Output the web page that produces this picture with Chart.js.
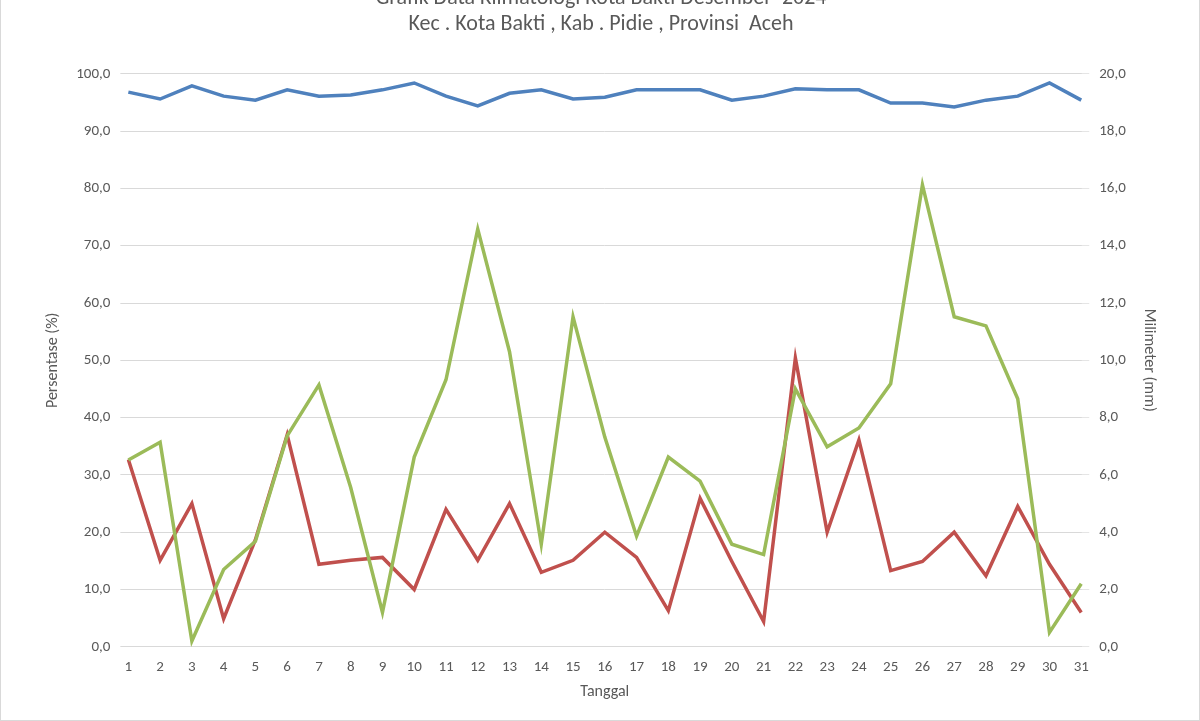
<!DOCTYPE html>
<html>
<head>
<meta charset="utf-8">
<script src="https://cdn.jsdelivr.net/npm/chart.js@4/dist/chart.umd.min.js"></script>
<style>
  html, body { margin: 0; padding: 0; background: #fff; overflow: hidden; }
  #wrap { position: absolute; left: 0; top: -20px; width: 1200px; height: 741px; border: 1px solid #d9d9d9; box-sizing: border-box; }
</style>
</head>
<body>
<div id="wrap"><canvas id="c"></canvas></div>
<script>
// ─── Data ─────────────────────────────────────────────────────────────────
const days = Array.from({ length: 31 }, (_, i) => String(i + 1));

// Humidity (%), left axis
const humidity = [96.8, 95.6, 97.9, 96.1, 95.4, 97.2, 96.1, 96.3, 97.2, 98.4, 96.1, 94.4, 96.6, 97.2, 95.6, 95.9,
  97.2, 97.2, 97.2, 95.4, 96.1, 97.4, 97.2, 97.2, 94.9, 94.9, 94.2, 95.4, 96.1, 98.4, 95.4];

// Green series (%), left axis
const greenSeries = [32.6, 35.7, 1.0, 13.5, 18.4, 36.8, 45.7, 27.8, 6.0, 33.1, 46.6, 72.9, 51.5, 17.9, 57.6, 36.6,
  19.3, 33.1, 28.9, 17.9, 16.1, 45.0, 34.9, 38.2, 45.9, 80.6, 57.6, 56.0, 43.3, 2.5, 11.0];

// Red series (mm), right axis
const redSeries = [6.54, 3.02, 5.0, 0.98, 3.74, 7.4, 2.88, 3.02, 3.12, 2.0, 4.8, 3.02, 5.0, 2.6, 3.02, 4.0,
  3.12, 1.26, 5.18, 2.98, 0.88, 10.08, 4.0, 7.22, 2.66, 2.98, 4.0, 2.48, 4.9, 2.88, 1.2];

const fmt = v => Number(v).toFixed(1).replace('.', ',');
const tickFont = { family: 'Calibri, Carlito, "Liberation Sans", sans-serif', size: 15 };
const axisFont = { family: tickFont.family, size: 16 };
const grey = '#595959';

new Chart(document.getElementById('c'), {
  type: 'line',
  data: {
    labels: days,
    datasets: [
      { data: humidity, borderColor: '#4f81bd', borderWidth: 3.5, pointRadius: 0, tension: 0, yAxisID: 'y' },
      { data: greenSeries, borderColor: '#9bbb59', borderWidth: 3.5, pointRadius: 0, tension: 0, yAxisID: 'y' },
      { data: redSeries, borderColor: '#c0504d', borderWidth: 3.5, pointRadius: 0, tension: 0, yAxisID: 'y2' },
    ],
  },
  options: {
    responsive: true,
    maintainAspectRatio: false,
    animation: false,
    layout: { padding: { left: 38, right: 36, top: 0, bottom: 14 } },
    plugins: {
      legend: { display: false },
      tooltip: { enabled: false },
      title: {
        display: true,
        text: ['Grafik Data Klimatologi Kota Bakti Desember  2024', 'Kec . Kota Bakti , Kab . Pidie , Provinsi  Aceh'],
        color: grey,
        font: { family: tickFont.family, size: 22, weight: 'normal' },
        padding: { top: 4, bottom: 36 },
      },
    },
    scales: {
      x: {
        grid: { display: false },
        border: { color: '#d9d9d9' },
        ticks: { color: grey, font: tickFont, maxRotation: 0, autoSkip: false },
        title: { display: true, text: 'Tanggal', color: grey, font: axisFont },
      },
      y: {
        min: 0, max: 100,
        ticks: { stepSize: 10, color: grey, font: tickFont, callback: fmt, padding: 10 },
        grid: { color: '#d9d9d9' },
        border: { display: false },
        title: { display: true, text: 'Persentase (%)', color: grey, font: axisFont },
      },
      y2: {
        position: 'right',
        min: 0, max: 20,
        ticks: { stepSize: 2, color: grey, font: tickFont, callback: fmt, padding: 10 },
        grid: { drawOnChartArea: false },
        border: { display: false },
        title: { display: true, text: 'Milimeter (mm)', color: grey, font: axisFont },
      },
    },
  },
});
</script>
</body>
</html>
